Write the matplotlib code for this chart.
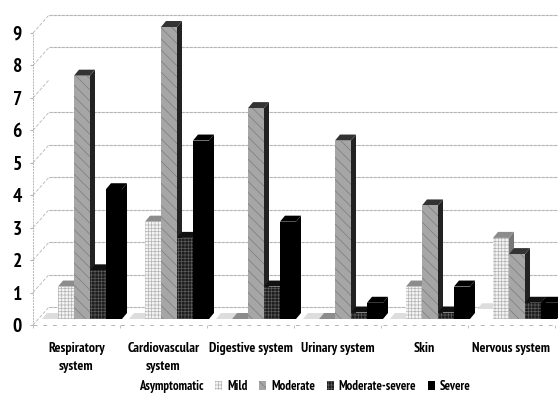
#!/usr/bin/env python
"""Grouped pseudo-3D bars: symptom severity per organ system."""
import matplotlib
matplotlib.use("Agg")
import matplotlib.pyplot as plt
from matplotlib.patches import Patch

categories = ["Respiratory\nsystem", "Cardiovascular\nsystem", "Digestive system",
              "Urinary system", "Skin", "Nervous system"]
series = ["Asymptomatic", "Mild", "Moderate", "Moderate-severe", "Severe"]
asymptomatic = [0, 0, 0, 0, 0, 0.3]
mild = [1, 3, 0, 0, 1, 2.5]
moderate = [7.5, 9, 6.5, 5.5, 3.5, 2]
moderate_severe = [1.5, 2.5, 1, 0.2, 0.2, 0.5]
severe = [4, 5.5, 3, 0.5, 1, 0.5]
y_ticks = list(range(10))
grid_values = [0, 1, 2, 3, 4, 5, 6, 8, 9]   # the 7 line is missing in the original

# face, hatch, hatch colour, top colour, side colour
STYLE = {
    "Asymptomatic":    ("white", None, "white", "#dddddd", "#e8e8e8"),
    "Mild":            ("#f4f4f4", "+++++", "#b4b4b4", "#8c8c8c", "#777777"),
    "Moderate":        ("#a6a6a6", "\\\\\\", "#7c7c7c", "#333333", "#222222"),
    "Moderate-severe": ("#1e1e1e", "+++++", "#5a5a5a", "#111111", "#111111"),
    "Severe":          ("black", None, "black", "black", "black"),
}

plt.rcParams["font.family"] = ["PT Sans Narrow", "Cabin Condensed", "Liberation Sans", "DejaVu Sans"]
plt.rcParams["font.weight"] = "bold"
plt.rcParams["hatch.linewidth"] = 0.5

W, H = 558, 394
fig = plt.figure(figsize=(W / 100, H / 100), dpi=100)
ax = fig.add_axes([33 / W, (H - 325) / H, 522 / W, 292 / H])
ax.set_xlim(0, 6)
ax.set_ylim(0, 9)
PX = 6 / 522          # one pixel in x units
PY = 9 / 292          # one pixel in y units
grid_c = "#b5b5b5"

# walls
for v in grid_values:
    ax.plot([16 * PX, 525 * PX], [v + 18 * PY] * 2, color=grid_c, lw=0.8, ls=(0, (3, 0.6)),
            clip_on=False, zorder=1)
for v in y_ticks:
    ax.plot([0, 16 * PX], [v, v + 18 * PY], color=grid_c, lw=0.6, ls=(0, (4, 2)),
            clip_on=False, zorder=1)
ax.plot([0, 0], [0, 9], color=grid_c, lw=0.7, ls=(0, (2, 1)), zorder=1)
ax.plot([0, 6], [0, 0], color=grid_c, lw=0.7, ls=(0, (4, 6)), clip_on=False, zorder=1)

# bars
bar_w = 16 * PX
off_x, off_y = 5.5 * PX, 6 * PY     # base of the front face above the axis plane
dep_x, dep_y = 5 * PX, 6 * PY       # depth of each bar
values = [asymptomatic, mild, moderate, moderate_severe, severe]
z = 2
for i in range(len(categories)):
    for name, vals in zip(series, values):
        j = series.index(name)
        face, hatch, hc, top_c, side_c = STYLE[name]
        x0 = i + 0.5 + off_x + (j - 2.5) * bar_w
        x1 = x0 + bar_w
        base = off_y
        top = base + vals[i]
        ax.fill([x1, x1 + dep_x, x1 + dep_x, x1], [base, base + dep_y, top + dep_y, top],
                color=side_c, lw=0, clip_on=False, zorder=z)
        ax.fill([x0, x1, x1 + dep_x, x0 + dep_x], [top, top, top + dep_y, top + dep_y],
                color=top_c, lw=0, clip_on=False, zorder=z)
        ax.bar(x0, vals[i], width=bar_w, bottom=base, align="edge", facecolor=face,
               hatch=hatch, edgecolor=hc, lw=0, clip_on=False, zorder=z + 1)
        z += 2

for s in ax.spines.values():
    s.set_visible(False)
ax.set_yticks(y_ticks)
ax.set_yticklabels([str(v) for v in y_ticks], fontsize=14)
ax.tick_params(axis="y", length=2, color=grid_c, pad=6)
ax.set_xticks([i + 0.5 for i in range(6)])
ax.set_xticklabels(categories, fontsize=10, linespacing=1.5)
ax.set_xticks(range(7), minor=True)
ax.tick_params(axis="x", which="major", length=0, pad=12)
ax.tick_params(axis="x", which="minor", length=2, color=grid_c)

handles = [Patch(facecolor=STYLE[n][0], hatch=STYLE[n][1], edgecolor=STYLE[n][2], lw=0)
           for n in series]
fig.legend(handles, series, loc="lower left", bbox_to_anchor=(126 / W, 0), ncol=5,
           frameon=False, fontsize=9.2, handlelength=0.55, handleheight=0.7,
           handletextpad=0.35, columnspacing=0.95, borderpad=0.1, borderaxespad=0)

fig.savefig("out.png", dpi=100)
